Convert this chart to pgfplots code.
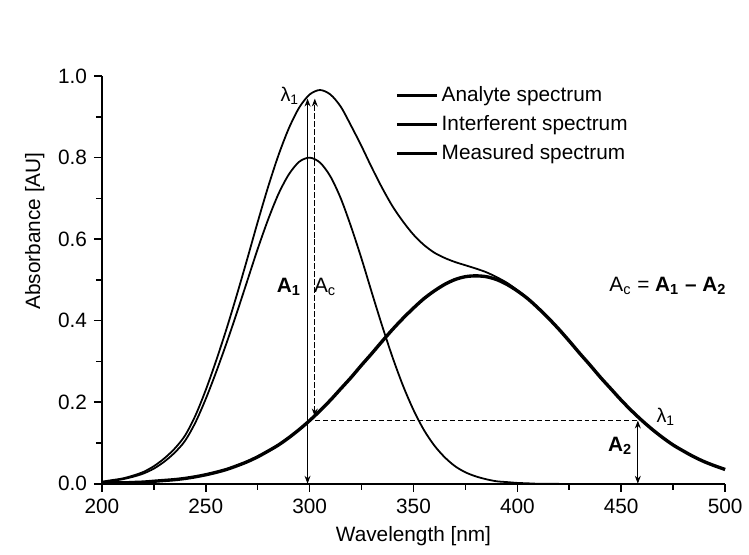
\documentclass[border=0pt]{standalone}
\usepackage{fontspec}
\setmainfont{Liberation Sans}
\usepackage{pgfplots}
\pgfplotsset{compat=1.18}
\usetikzlibrary{arrows.meta}

% absorbance, 5 nm steps
\pgfplotstableread{
x y
200 0.004
205 0.007
210 0.011
215 0.017
220 0.025
225 0.037
230 0.054
235 0.076
240 0.105
245 0.150
250 0.208
255 0.274
260 0.345
265 0.420
270 0.498
275 0.576
280 0.648
285 0.711
290 0.759
295 0.790
300 0.800
305 0.788
310 0.754
315 0.700
320 0.630
325 0.552
330 0.468
335 0.386
340 0.309
345 0.240
350 0.181
355 0.132
360 0.094
365 0.065
370 0.043
375 0.028
380 0.018
385 0.011
390 0.006
395 0.004
400 0.002
405 0.001
410 0.000
420 0.000
}\analyte

\pgfplotstableread{
x y
200 0.001
205 0.002
210 0.002
215 0.003
220 0.004
225 0.006
230 0.008
235 0.010
240 0.013
245 0.017
250 0.022
255 0.028
260 0.035
265 0.044
270 0.054
275 0.066
280 0.080
285 0.095
290 0.113
295 0.133
300 0.155
305 0.179
310 0.205
315 0.233
320 0.261
325 0.291
330 0.320
335 0.350
340 0.379
345 0.406
350 0.431
355 0.454
360 0.473
365 0.489
370 0.501
375 0.508
380 0.510
385 0.508
390 0.501
395 0.489
400 0.473
405 0.454
410 0.431
415 0.406
420 0.379
425 0.350
430 0.320
435 0.291
440 0.261
445 0.233
450 0.205
455 0.179
460 0.155
465 0.133
470 0.113
475 0.095
480 0.080
485 0.066
490 0.054
495 0.044
500 0.035
}\interferent

\pgfplotstableread{
x y
200 0.005
205 0.009
210 0.013
215 0.020
220 0.029
225 0.043
230 0.062
235 0.086
240 0.118
245 0.167
250 0.230
255 0.302
260 0.380
265 0.464
270 0.552
275 0.642
280 0.728
285 0.806
290 0.872
295 0.923
300 0.955
305 0.966
310 0.955
315 0.925
320 0.878
325 0.828
330 0.775
335 0.725
340 0.680
345 0.643
350 0.611
355 0.586
360 0.567
365 0.554
370 0.544
375 0.536
380 0.528
385 0.519
390 0.507
395 0.493
400 0.475
405 0.455
410 0.431
415 0.406
420 0.379
425 0.350
430 0.320
435 0.291
440 0.261
445 0.233
450 0.205
455 0.179
460 0.155
465 0.133
470 0.113
475 0.095
480 0.080
485 0.066
490 0.054
495 0.044
500 0.035
}\measured

\begin{document}
\begin{tikzpicture}
\begin{axis}[
    scale only axis,
    width=315pt, height=206pt,
    xmin=200, xmax=500, ymin=0, ymax=1.0,
    axis x line*=bottom, axis y line*=left,
    axis line style={line width=1pt},
    xtick={200,250,...,500},
    ytick={0,0.2,...,1.0},
    minor x tick num=1,
    minor y tick num=1,
    tick align=outside,
    major tick length=4pt, minor tick length=3pt,
    tick style={black, line width=0.8pt},
    /pgf/number format/assume math mode=true,
    ticklabel style={font=\fontsize{10.5}{12}\selectfont},
    yticklabel style={/pgf/number format/fixed, /pgf/number format/fixed zerofill, /pgf/number format/precision=1},
    xticklabel style={/pgf/number format/1000 sep={}},
    xlabel={Wavelength [nm]},
    ylabel={Absorbance [AU]},
    label style={font=\fontsize{10.5}{12}\selectfont},
    ylabel style={at={(ticklabel cs:0.62)}},
    clip=false,
    legend cell align=left,
    legend style={draw=none, fill=none, inner sep=0pt,
        at={(rel axis cs:0.471,0.985)}, anchor=north west,
        font=\fontsize{10.5}{13}\selectfont, row sep=1.5pt},
    legend image code/.code={\draw[black, line width=1.2pt] (0pt,0pt) -- (20pt,0pt);},
]
\addplot[black, line width=0.9pt, smooth] table {\analyte};
\addlegendentry{Analyte spectrum}
\addplot[black, line width=1.7pt, smooth] table {\interferent};
\addlegendentry{Interferent spectrum}
\addplot[black, line width=0.9pt, smooth] table {\measured};
\addlegendentry{Measured spectrum}

% A1 at lambda1
\draw[line width=0.6pt, {Stealth[length=4pt,width=3pt]}-{Stealth[length=4pt,width=3pt]}]
    (axis cs:299,0) -- (axis cs:299,0.945);
% Ac at lambda1
\draw[line width=0.6pt, dash pattern=on 3pt off 1pt, {Stealth[length=4pt,width=3pt]}-{Stealth[length=4pt,width=3pt]}]
    (axis cs:302.5,0.165) -- (axis cs:302.5,0.945);
% interferent level carried over to the second wavelength
\draw[line width=0.8pt, dash pattern=on 2.5pt off 1.5pt] (axis cs:299,0.155) -- (axis cs:458,0.155);
\draw[line width=0.6pt, {Stealth[length=4pt,width=3pt]}-{Stealth[length=4pt,width=3pt]}]
    (axis cs:458,0) -- (axis cs:458,0.155);

\node[font=\fontsize{10}{12}\selectfont] at (axis cs:290.5,0.952) {λ\textsubscript{1}};
\node[font=\fontsize{10}{12}\selectfont] at (axis cs:471.5,0.165) {λ\textsubscript{1}};
\node[font=\bfseries\fontsize{10.5}{12}\selectfont] at (axis cs:290,0.483) {A\textsubscript{1}};
\node[font=\fontsize{10.5}{12}\selectfont] at (axis cs:307.5,0.483) {A\textsubscript{c}};
\node[font=\bfseries\fontsize{10.5}{12}\selectfont] at (axis cs:449.5,0.092) {A\textsubscript{2}};
\node[font=\fontsize{10.5}{12}\selectfont] at (axis cs:472.5,0.485)
    {A\textsubscript{c} = \textbf{A\textsubscript{1} – A\textsubscript{2}}};

% page frame matching the scanned margins
\path ([xshift=-51.5pt,yshift=-36pt]rel axis cs:0,0) rectangle ([xshift=8pt,yshift=38.5pt]rel axis cs:1,1);
\end{axis}
\end{tikzpicture}
\end{document}
